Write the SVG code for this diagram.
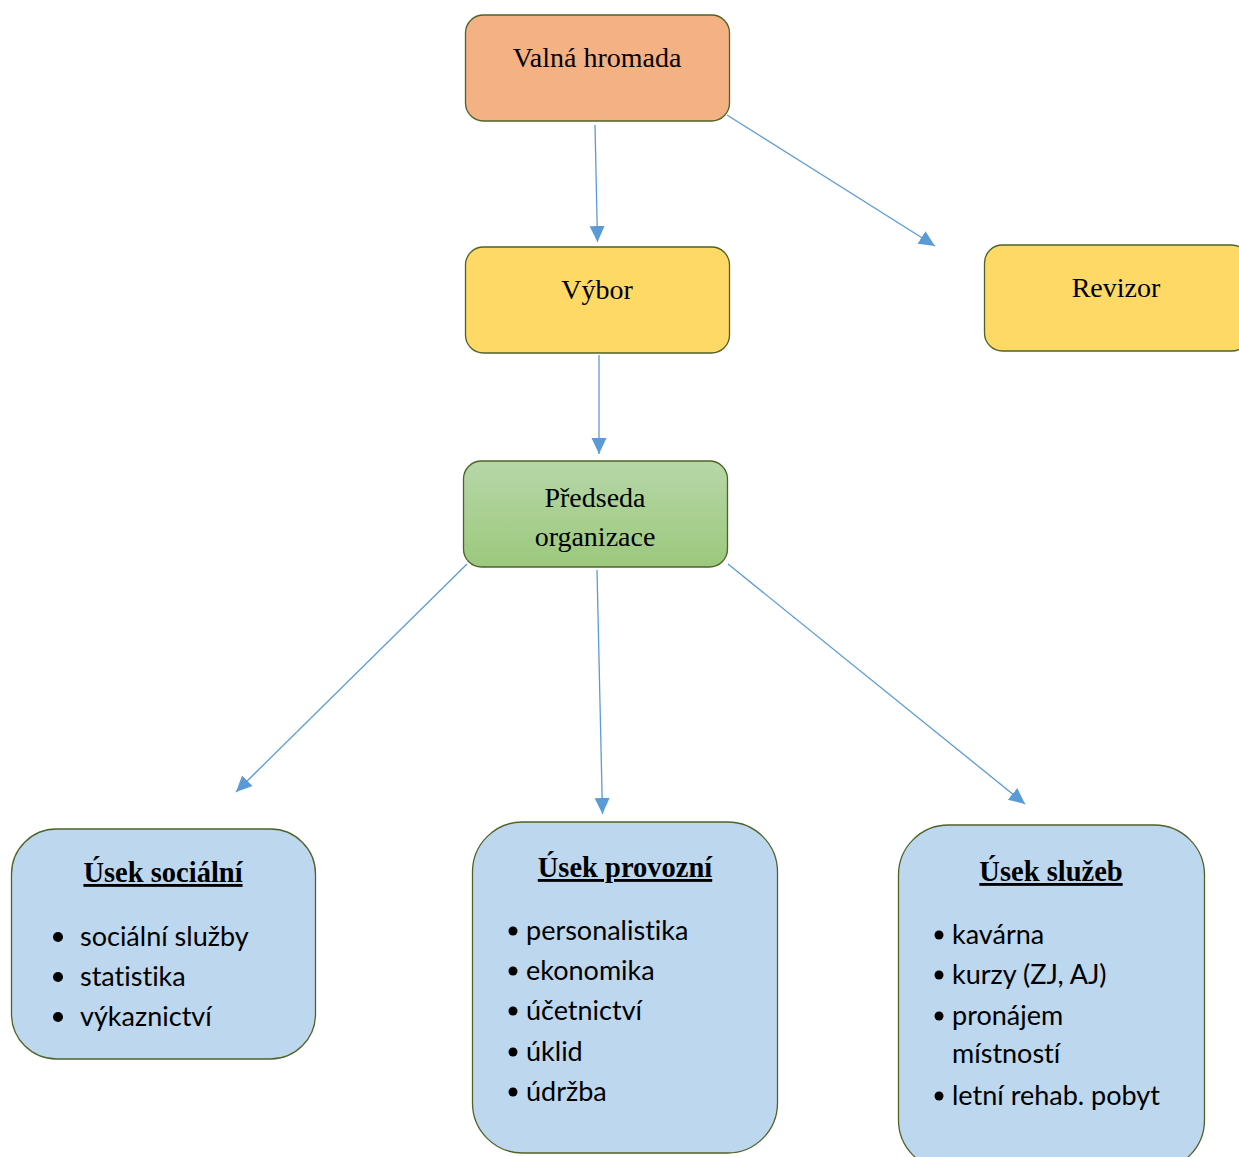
<svg xmlns="http://www.w3.org/2000/svg" width="1239" height="1157" viewBox="0 0 1239 1157">
<style>
.box{stroke:#4f6228;stroke-width:1.3}
.serif{font-family:"Liberation Serif","DejaVu Serif",serif;font-size:28px;fill:#000;text-anchor:middle}
.title{font-family:"Liberation Serif","DejaVu Serif",serif;font-size:28.5px;font-weight:bold;fill:#000;text-anchor:middle;text-decoration:underline}
.item{font-family:Lato,"Liberation Sans",sans-serif;font-size:27px;fill:#000;font-variant-ligatures:none}
.conn{stroke:#5b9bd5;stroke-width:1.3;fill:none;marker-end:url(#arr)}
</style>
<defs>
<marker id="arr" markerUnits="userSpaceOnUse" markerWidth="18" markerHeight="16" refX="16" refY="7.5" orient="auto">
<path d="M0,0 L16,7.5 L0,15 Z" fill="#5b9bd5"/>
</marker>
<linearGradient id="green" x1="0" y1="0" x2="0" y2="1">
<stop offset="0" stop-color="#b6d7a8"/>
<stop offset="1" stop-color="#9cc87c"/>
</linearGradient>
</defs>
<rect width="1239" height="1157" fill="#fff"/>
<g id="connectors">
<line class="conn" x1="595" y1="125" x2="597.5" y2="242"/>
<line class="conn" x1="727" y1="115" x2="935" y2="246"/>
<line class="conn" x1="599" y1="355" x2="599" y2="454"/>
<line class="conn" x1="467" y1="564" x2="236" y2="792"/>
<line class="conn" x1="597" y1="570" x2="602.5" y2="814"/>
<line class="conn" x1="728" y1="564" x2="1025" y2="804"/>
</g>
<g id="valna-hromada">
<rect class="box" x="465.5" y="15" width="264" height="106" rx="18" fill="#f4b183"/>
<text class="serif" x="597" y="67">Valná hromada</text>
</g>
<g id="vybor">
<rect class="box" x="465.5" y="247" width="264" height="106" rx="18" fill="#fed966"/>
<text class="serif" x="597" y="299">Výbor</text>
</g>
<g id="revizor">
<rect class="box" x="984.5" y="245" width="265" height="106" rx="18" fill="#fed966"/>
<text class="serif" x="1116" y="297">Revizor</text>
</g>
<g id="predseda">
<rect class="box" x="463.5" y="461" width="264" height="106" rx="18" fill="url(#green)"/>
<text class="serif" x="595" y="507">Předseda</text>
<text class="serif" x="595" y="546">organizace</text>
</g>
<g id="usek-socialni">
<rect class="box" x="11.5" y="829" width="304" height="230" rx="45" fill="#bdd7ee"/>
<text class="title" x="163" y="882">Úsek sociální</text>
<circle cx="58" cy="937" r="5" fill="#000"/>
<circle cx="58" cy="977" r="5" fill="#000"/>
<circle cx="58" cy="1017" r="5" fill="#000"/>
<text class="item" x="80" y="946">sociální služby</text>
<text class="item" x="80" y="986">statistika</text>
<text class="item" x="80" y="1026">výkaznictví</text>
</g>
<g id="usek-provozni">
<rect class="box" x="472.5" y="822" width="305" height="331" rx="50" fill="#bdd7ee"/>
<text class="title" x="625" y="877">Úsek provozní</text>
<circle cx="513" cy="931" r="4.5" fill="#000"/>
<circle cx="513" cy="971" r="4.5" fill="#000"/>
<circle cx="513" cy="1011" r="4.5" fill="#000"/>
<circle cx="513" cy="1052" r="4.5" fill="#000"/>
<circle cx="513" cy="1092" r="4.5" fill="#000"/>
<text class="item" x="526" y="940">personalistika</text>
<text class="item" x="526" y="980">ekonomika</text>
<text class="item" x="526" y="1020">účetnictví</text>
<text class="item" x="526" y="1061">úklid</text>
<text class="item" x="526" y="1101">údržba</text>
</g>
<g id="usek-sluzeb">
<rect class="box" x="898.5" y="825" width="306" height="345" rx="50" fill="#bdd7ee"/>
<text class="title" x="1051" y="881">Úsek služeb</text>
<circle cx="939" cy="935" r="4.5" fill="#000"/>
<circle cx="939" cy="975" r="4.5" fill="#000"/>
<circle cx="939" cy="1016" r="4.5" fill="#000"/>
<circle cx="939" cy="1096" r="4.5" fill="#000"/>
<text class="item" x="952" y="944">kavárna</text>
<text class="item" x="952" y="984">kurzy (ZJ, AJ)</text>
<text class="item" x="952" y="1025">pronájem</text>
<text class="item" x="952" y="1063">místností</text>
<text class="item" x="952" y="1105">letní rehab. pobyt</text>
</g>
</svg>
